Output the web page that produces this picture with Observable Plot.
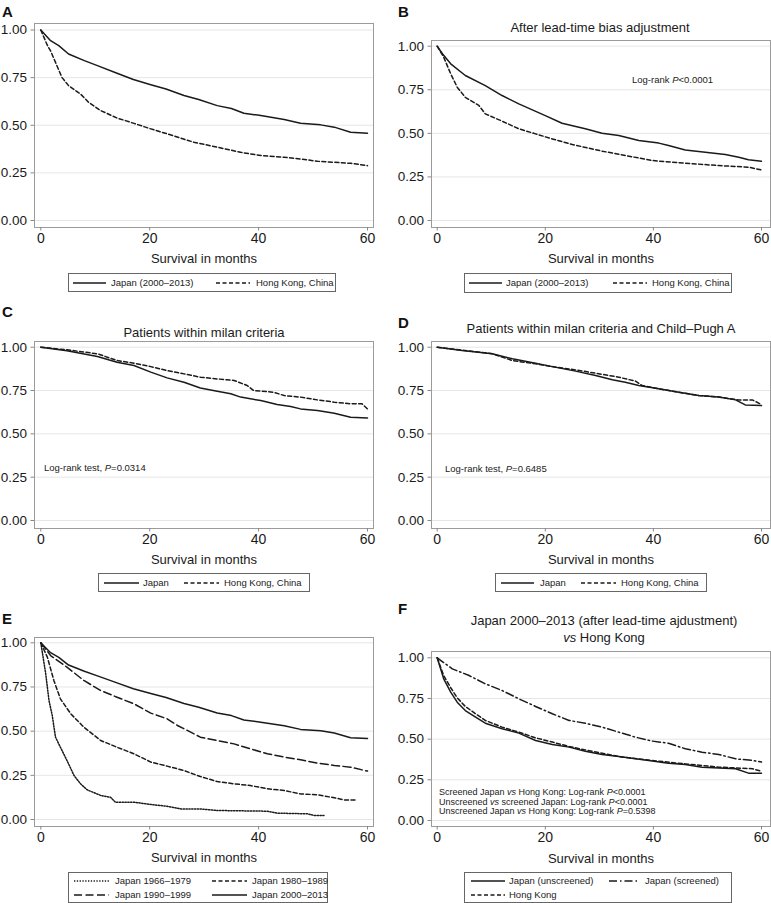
<!DOCTYPE html>
<html><head><meta charset="utf-8">
<script src="https://cdn.jsdelivr.net/npm/d3@7"></script>
<script src="https://cdn.jsdelivr.net/npm/@observablehq/plot@0.6"></script>
<style>
body{margin:0;background:#fff;font-family:"Liberation Sans",Arial,sans-serif;}
#root{position:relative;width:771px;height:903px;overflow:hidden;background:#fff;}
.abs{position:absolute;white-space:nowrap;color:#1a1a1a;line-height:1;}
.letter{font-weight:bold;font-size:15px;color:#111;}
.title{font-size:13px;}
.xlab{font-size:13px;}
.note{font-size:9.5px;color:#222;}
.note2{font-size:9px;color:#222;}
.legend{position:absolute;border:1px solid #666;background:#fff;box-sizing:border-box;}
.legend svg{position:absolute;left:0;top:0;}
.ltxt{position:absolute;white-space:nowrap;font-size:9.5px;line-height:1;color:#222;transform:translateY(-50%);}
.plotbox{position:absolute;}
</style>
</head><body><div id="root"></div>
<script>
// ---------- DATA (months, survival probability) ----------
const xTicks = [0, 20, 40, 60];
const yTicks = [0, 0.25, 0.5, 0.75, 1];

// Panel A
const A_japan_t = [0,0.8,1.8,3.3,5.1,8,10.4,14,17,20.2,23,26.3,29,32.4,35,37.3,40.4,44.7,47.7,51.4,53.9,56.9,60];
const A_japan_s = [1,0.975,0.944,0.918,0.874,0.839,0.813,0.773,0.74,0.713,0.69,0.656,0.635,0.603,0.588,0.563,0.551,0.53,0.51,0.502,0.49,0.463,0.458];
const A_hk_t = [0,0.6,1.2,1.8,2.7,3.9,5.1,7.3,8.8,11,14,17.1,20.2,23.2,28.1,32.4,36.7,40.4,44.7,47.7,50.8,57,60];
const A_hk_s = [1,0.96,0.92,0.89,0.83,0.75,0.708,0.664,0.62,0.577,0.538,0.51,0.481,0.455,0.411,0.385,0.358,0.341,0.332,0.323,0.311,0.30,0.288];

// Panel B
const B_japan_t = [0,1,2.5,5.2,8.9,12,15.1,20,23.1,27.4,30.5,33.6,37.3,41,42.8,45.9,49.6,53.3,55.8,57.6,60];
const B_japan_s = [1,0.955,0.899,0.832,0.774,0.717,0.669,0.602,0.558,0.526,0.501,0.488,0.459,0.444,0.43,0.405,0.392,0.379,0.363,0.348,0.34];
const B_hk_t = [0,1.2,2.5,3.7,5.2,7.7,8.9,12,15.1,18.2,21.3,25,30.5,34.8,39.8,45.9,52.1,57.6,60];
const B_hk_s = [1,0.937,0.841,0.765,0.707,0.66,0.612,0.57,0.526,0.497,0.468,0.436,0.398,0.373,0.344,0.329,0.315,0.306,0.29];

// Panel C
const C_japan_t = [0,4.8,10.4,14,17.1,20.2,23.2,26.3,29.3,32.4,34.9,36.7,40.4,43.4,45.9,47.7,50.8,53.9,56.9,60];
const C_japan_s = [1,0.98,0.946,0.913,0.894,0.856,0.823,0.798,0.765,0.746,0.731,0.712,0.692,0.669,0.658,0.644,0.635,0.619,0.596,0.592];
const C_hk_t = [0,4.8,10.4,14,17.1,20.2,23.2,26.3,29.3,32.4,35.5,37.9,39.1,42.8,44.7,47.7,50.8,53.9,56.9,59,60];
const C_hk_s = [1,0.985,0.962,0.923,0.908,0.888,0.865,0.846,0.827,0.817,0.808,0.779,0.75,0.74,0.721,0.712,0.696,0.683,0.673,0.673,0.644];

// Panel D
const D_japan_t = [0,4.6,10.2,13.9,18.2,21.3,25.6,29.3,32.4,34.8,37.3,41,44.7,48.4,52.1,55.2,57,60];
const D_japan_s = [1,0.981,0.962,0.933,0.908,0.888,0.862,0.837,0.812,0.798,0.779,0.76,0.74,0.721,0.712,0.696,0.667,0.663];
const D_hk_t = [0,4.6,10.2,13.9,18.2,21.3,25.6,29.3,33.6,36.7,37.9,41,44.7,48.4,52.1,55.8,58.3,60];
const D_hk_s = [1,0.983,0.962,0.923,0.904,0.888,0.869,0.85,0.827,0.804,0.779,0.76,0.74,0.721,0.712,0.696,0.696,0.669];

// Panel E (Japan by period)
const E_1966_t = [0,0.9,1.5,2.1,2.7,3.6,4.5,5.1,6.1,7.3,8.5,11,12.8,13.7,17.1,20.2,23.2,25.7,29.3,32.4,41.6,43.4,49,50.2,52];
const E_1966_s = [1,0.825,0.674,0.589,0.466,0.409,0.353,0.315,0.249,0.202,0.168,0.136,0.126,0.098,0.098,0.085,0.075,0.06,0.06,0.051,0.047,0.036,0.032,0.023,0.023];
const E_1980_t = [0,1.2,2.4,3.6,5.5,7.9,11,14,17.1,20.2,23.2,26.3,29.3,32.4,35.5,38.5,41.6,44.7,47.7,50.8,53.9,55.7,58.1];
const E_1980_s = [1,0.919,0.787,0.683,0.598,0.523,0.447,0.409,0.372,0.325,0.302,0.277,0.243,0.215,0.202,0.192,0.174,0.164,0.145,0.14,0.123,0.111,0.111];
const E_1990_t = [0,1.8,4.8,7.9,11,14,17.1,20.2,23.2,25.1,26.9,29.3,32.4,35.5,38.5,41.6,44.7,47.7,50.8,53.9,56.9,60];
const E_1990_s = [1,0.928,0.862,0.787,0.73,0.692,0.655,0.602,0.57,0.532,0.504,0.466,0.447,0.428,0.4,0.372,0.353,0.338,0.319,0.306,0.296,0.274];
const E_2000_t = A_japan_t;
const E_2000_s = A_japan_s;

// Panel F
const F_unscr_t = [0,1.2,2.5,3.7,5.2,7.1,8.9,12,15.1,18.2,21.3,24.4,27.4,30.5,33.6,36.7,39.8,42.8,45.9,49,52.1,55.2,57.6,60];
const F_unscr_s = [1,0.871,0.789,0.727,0.676,0.635,0.598,0.564,0.537,0.492,0.467,0.451,0.426,0.406,0.393,0.379,0.365,0.352,0.344,0.328,0.322,0.318,0.291,0.291];
const F_scr_t = [0,2.8,5.9,8.9,12,15.1,18.2,21.3,24.4,27.4,30.5,33.6,36.7,39.8,42.8,45.9,49,52.1,55.2,58.3,60];
const F_scr_s = [1,0.932,0.891,0.84,0.799,0.748,0.701,0.656,0.615,0.598,0.574,0.543,0.512,0.488,0.475,0.441,0.42,0.406,0.379,0.369,0.359];
const F_hk_t = [0,1.2,2.5,3.7,5.2,7.1,8.9,12,15.1,18.2,21.3,24.4,27.4,30.5,33.6,39.8,45.9,52.1,58.3,60];
const F_hk_s = [1,0.891,0.816,0.754,0.701,0.656,0.615,0.574,0.543,0.508,0.482,0.455,0.434,0.414,0.393,0.369,0.348,0.328,0.318,0.303];

// ---------- STYLES ----------
const INK = "#1a1a1a";
const DASH = {solid: null, dash: "4,2.5", dot: "1.3,1.5", longdash: "8,3.5", dashdot: "8,3,1.5,3"};

const root = document.getElementById("root");
const pts = (t, s) => t.map((v, i) => ({t: v, s: s[i]}));

function text(x, y, html, cls, anchor = "start") {
  const d = document.createElement("div");
  d.className = "abs " + cls;
  d.innerHTML = html;
  d.style.left = x + "px";
  d.style.top = y + "px";
  const tx = anchor === "middle" ? "-50%" : "0";
  d.style.transform = `translate(${tx},-50%)`;
  root.appendChild(d);
}

function panel(cfg) {
  const {left, top, width, height, frame, x0, x60, y1, y0, series} = cfg;
  const [fl, ft, fr, fb] = frame;
  const kx = (x60 - x0) / 60;
  const ky = (y0 - y1);
  const xd = [(fl - x0) / kx, 60 + (fr - x60) / kx];
  const yd = [-(fb - y0) / ky, 1 + (y1 - ft) / ky];
  const marks = [
    Plot.gridY(yTicks, {stroke: "#e6e6e6", strokeOpacity: 1}),
    Plot.frame({stroke: "#9b9b9b", strokeWidth: 1}),
    Plot.axisX(xTicks, {tickSize: 3.5, tickPadding: 2, label: null, stroke: "#888", fill: "#1a1a1a", fontSize: 14}),
    Plot.axisY(yTicks, {tickSize: 3.5, tickPadding: 4, label: null, stroke: "#888", fill: "#1a1a1a", fontSize: 13.5, tickFormat: d3.format(".2f")})
  ];
  for (const s of series) {
    marks.push(Plot.line(pts(s.t, s.s), {x: "t", y: "s", stroke: INK, strokeWidth: s.w || 1.5, strokeDasharray: DASH[s.style], curve: "linear"}));
  }
  const svg = Plot.plot({
    width, height,
    marginLeft: fl - left, marginRight: left + width - fr,
    marginTop: ft - top, marginBottom: top + height - fb,
    style: {fontFamily: "'Liberation Sans', Arial, sans-serif", background: "transparent", overflow: "visible"},
    x: {domain: xd},
    y: {domain: yd},
    marks
  });
  const wrap = document.createElement("div");
  wrap.className = "plotbox";
  wrap.style.left = left + "px";
  wrap.style.top = top + "px";
  wrap.appendChild(svg);
  root.appendChild(wrap);
}

function legend(box, items) {
  const [x1, y1, x2, y2] = box;
  const d = document.createElement("div");
  d.className = "legend";
  d.style.left = x1 + "px"; d.style.top = y1 + "px";
  d.style.width = (x2 - x1) + "px"; d.style.height = (y2 - y1) + "px";
  const ns = "http://www.w3.org/2000/svg";
  const svg = document.createElementNS(ns, "svg");
  svg.setAttribute("width", x2 - x1); svg.setAttribute("height", y2 - y1);
  for (const it of items) {
    const l = document.createElementNS(ns, "line");
    l.setAttribute("x1", it.a - x1); l.setAttribute("x2", it.b - x1);
    l.setAttribute("y1", it.y - y1 - 1); l.setAttribute("y2", it.y - y1 - 1);
    l.setAttribute("stroke", INK); l.setAttribute("stroke-width", 1.4);
    if (DASH[it.style]) l.setAttribute("stroke-dasharray", DASH[it.style]);
    svg.appendChild(l);
    const t = document.createElement("div");
    t.className = "ltxt";
    t.textContent = it.label;
    t.style.left = (it.tx - x1 - 1) + "px";
    t.style.top = (it.y - y1 - 1) + "px";
    d.appendChild(t);
  }
  d.appendChild(svg);
  root.appendChild(d);
}

// ---------- PANELS ----------
panel({left: 0, top: 0, width: 385, height: 250, frame: [34, 23, 373, 227], x0: 40.3, x60: 367, y1: 29.5, y0: 220,
  series: [{t: A_japan_t, s: A_japan_s, style: "solid"}, {t: A_hk_t, s: A_hk_s, style: "dash"}]});
panel({left: 385, top: 0, width: 386, height: 250, frame: [431, 40, 770, 227], x0: 436.7, x60: 761, y1: 45.7, y0: 220,
  series: [{t: B_japan_t, s: B_japan_s, style: "solid"}, {t: B_hk_t, s: B_hk_s, style: "dash"}]});
panel({left: 0, top: 300, width: 385, height: 250, frame: [34, 341, 373, 528], x0: 40.3, x60: 367, y1: 346.7, y0: 520,
  series: [{t: C_japan_t, s: C_japan_s, style: "solid"}, {t: C_hk_t, s: C_hk_s, style: "dash"}]});
panel({left: 385, top: 300, width: 386, height: 250, frame: [431, 341, 770, 528], x0: 436.7, x60: 761, y1: 346.7, y0: 520,
  series: [{t: D_japan_t, s: D_japan_s, style: "solid"}, {t: D_hk_t, s: D_hk_s, style: "dash"}]});
panel({left: 0, top: 600, width: 385, height: 250, frame: [34, 637, 373, 826], x0: 40.3, x60: 367, y1: 642.3, y0: 819,
  series: [{t: E_1966_t, s: E_1966_s, style: "dot"}, {t: E_1980_t, s: E_1980_s, style: "dash"},
           {t: E_1990_t, s: E_1990_s, style: "longdash"}, {t: E_2000_t, s: E_2000_s, style: "solid"}]});
panel({left: 385, top: 600, width: 386, height: 250, frame: [431, 651, 770, 826], x0: 436.7, x60: 761, y1: 657.3, y0: 820,
  series: [{t: F_unscr_t, s: F_unscr_s, style: "solid"}, {t: F_scr_t, s: F_scr_s, style: "dashdot"}, {t: F_hk_t, s: F_hk_s, style: "dash"}]});

// ---------- TEXT ----------
text(2, 11, "A", "letter"); text(398, 11, "B", "letter");
text(2, 311, "C", "letter"); text(398, 322, "D", "letter");
text(2, 618, "E", "letter"); text(398, 608, "F", "letter");

text(600, 27, "After lead-time bias adjustment", "title", "middle");
text(204, 332, "Patients within milan criteria", "title", "middle");
text(601, 328, "Patients within milan criteria and Child\u2013Pugh A", "title", "middle");
text(604, 620, "Japan 2000\u20132013 (after lead-time ajdustment)", "title", "middle");
text(604, 637, "<i>vs</i> Hong Kong", "title", "middle");

for (const [x, y] of [[204, 258], [601, 258], [204, 559], [601, 559], [204, 857], [601, 858]])
  text(x, y, "Survival in months", "xlab", "middle");

text(632, 80, "Log-rank <i>P</i>&lt;0.0001", "note");
text(44, 468, "Log-rank test, <i>P</i>=0.0314", "note");
text(445, 469, "Log-rank test, <i>P</i>=0.6485", "note");
text(439, 792, "Screened Japan <i>vs</i> Hong Kong: Log-rank <i>P</i>&lt;0.0001", "note2");
text(439, 801.5, "Unscreened <i>vs</i> screened Japan: Log-rank <i>P</i>&lt;0.0001", "note2");
text(439, 811, "Unscreened Japan <i>vs</i> Hong Kong: Log-rank <i>P</i>=0.5398", "note2");

// ---------- LEGENDS ----------
legend([68, 273, 336, 292], [
  {a: 72, b: 105, y: 283, tx: 111, label: "Japan (2000\u20132013)", style: "solid"},
  {a: 215, b: 249, y: 283, tx: 256, label: "Hong Kong, China", style: "dash"}]);
legend([464, 273, 732, 293], [
  {a: 468, b: 501, y: 283, tx: 506, label: "Japan (2000\u20132013)", style: "solid"},
  {a: 612, b: 646, y: 283, tx: 652, label: "Hong Kong, China", style: "dash"}]);
legend([98, 573, 310, 592], [
  {a: 103, b: 138, y: 583, tx: 143, label: "Japan", style: "solid"},
  {a: 183, b: 218, y: 583, tx: 224, label: "Hong Kong, China", style: "dash"}]);
legend([495, 573, 707, 592], [
  {a: 500, b: 533, y: 583, tx: 540, label: "Japan", style: "solid"},
  {a: 580, b: 615, y: 583, tx: 621, label: "Hong Kong, China", style: "dash"}]);
legend([68, 872, 328, 903], [
  {a: 73, b: 108, y: 881, tx: 115, label: "Japan 1966\u20131979", style: "dot"},
  {a: 211, b: 246, y: 881, tx: 252, label: "Japan 1980\u20131989", style: "dash"},
  {a: 73, b: 108, y: 895, tx: 115, label: "Japan 1990\u20131999", style: "longdash"},
  {a: 211, b: 246, y: 895, tx: 252, label: "Japan 2000\u20132013", style: "solid"}]);
legend([464, 872, 732, 903], [
  {a: 470, b: 504, y: 881, tx: 509, label: "Japan (unscreened)", style: "solid"},
  {a: 608, b: 639, y: 881, tx: 645, label: "Japan (screened)", style: "dashdot"},
  {a: 470, b: 504, y: 895, tx: 509, label: "Hong Kong", style: "dash"}]);
</script>
</body></html>
